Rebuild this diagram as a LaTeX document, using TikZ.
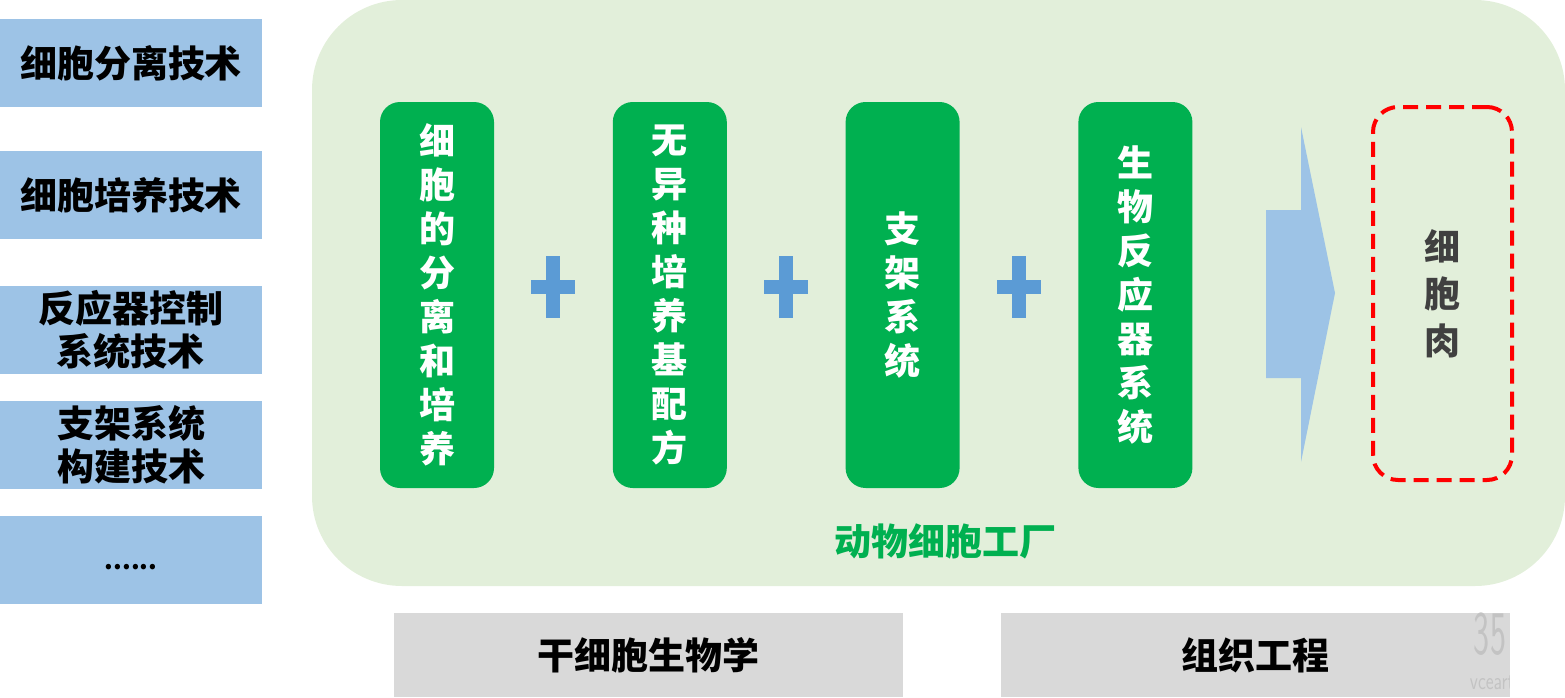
\documentclass[tikz,border=0pt]{standalone}
\usepackage{fontspec}
\setmainfont{Noto Sans CJK SC}
\usetikzlibrary{positioning}

\definecolor{techblue}{HTML}{9DC3E6}
\definecolor{factorybg}{HTML}{E2EFDA}
\definecolor{pillargreen}{HTML}{00B050}
\definecolor{plusblue}{HTML}{5B9BD5}
\definecolor{basegray}{HTML}{D9D9D9}
\definecolor{meattext}{HTML}{404040}

\begin{document}
\begin{tikzpicture}[x=0.5pt, y=-0.5pt, node distance=59pt,
	techbox/.style={fill=techblue, minimum width=131pt, minimum height=44pt, inner sep=0pt, align=center, font=\bfseries\fontsize{18.5}{21.5}\selectfont},
	pillar/.style={fill=pillargreen, text=white, rounded corners=10pt, minimum width=57pt, minimum height=193pt, inner sep=0pt, align=center, font=\bfseries\fontsize{18}{22}\selectfont},
	basebox/.style={fill=basegray, minimum width=254.5pt, minimum height=42pt, inner sep=0pt, font=\bfseries\fontsize{18.5}{21.5}\selectfont}]
	\useasboundingbox (0,0) rectangle (1565,697);
	
	% Technologies on the left
	\node [techbox] (t1) at (131,63)  {细胞分离技术};
	\node [techbox] (t2) at (131,195) {细胞培养技术};
	\node [techbox] (t3) at (131,330) {反应器控制\\系统技术};
	\node [techbox] (t4) at (131,445) {支架系统\\构建技术};
	\node [techbox] (t5) at (131,560) {};
	\node [font=\bfseries\fontsize{12.5}{12.5}\selectfont, inner sep=0pt] (dots) at (131,567) {......};
	
	% Factory background
	\node [fill=factorybg, rounded corners=45pt, minimum width=626.5pt, minimum height=293pt, inner sep=0pt] (factory) at (938.5,293) {};
	\node [text=pillargreen, font=\bfseries\fontsize{18.5}{21.5}\selectfont] (flabel) at (945,541) {动物细胞工厂};
	
	% Pillars {p1, p2, p3, p4}
	\node [pillar] (p1) at (437,295)      {细\\胞\\的\\分\\离\\和\\培\\养};
	\node [pillar] (p2) [right=of p1]     {无\\异\\种\\培\\养\\基\\配\\方};
	\node [pillar] (p3) [right=of p2]     {支\\架\\系\\统};
	\node [pillar] (p4) [right=of p3]     {生\\物\\反\\应\\器\\系\\统};
	
	% Plus signs
	\foreach \a/\b in {p1/p2, p2/p3, p3/p4} {
		\path (\a.east) -- (\b.west) coordinate [midway] (m);
		\fill [plusblue] ([shift={(-22,-15)}]m) rectangle ([shift={(22,-1)}]m);
		\fill [plusblue] ([shift={(-7,-39)}]m) rectangle ([shift={(7,23)}]m);
	}
	
	% Result
	\node [draw=red, line width=2pt, dash pattern=on 7.5pt off 4pt, rounded corners=12.5pt, minimum width=69.5pt, minimum height=186.5pt, inner sep=0pt, text=meattext, align=center, font=\bfseries\fontsize{18}{23.5}\selectfont] (meat) at (1442.5,293.5) {细\\胞\\肉};
	\fill [techblue] (1266,210) -- (1301,210) -- (1301,127) -- (1335,293) -- (1301,462) -- (1301,378) -- (1266,378) -- cycle;
	
	% Base disciplines
	\node [basebox] (b1) at (648.5,655) {干细胞生物学};
	\node [basebox] (b2) at (1255,655)  {组织工程};
	\begin{scope}
		\clip (b2.south west) rectangle (b2.north east);
		\node [text=gray!25!basegray, font=\sffamily\fontsize{31}{31}\selectfont, xscale=0.55, inner sep=0pt] at (1490,634) {35};
		\node [text=gray!25!basegray, font=\sffamily\fontsize{12}{12}\selectfont, xscale=0.75, inner sep=0pt] at (1492,683) {vceart};
	\end{scope}
\end{tikzpicture}
\end{document}
